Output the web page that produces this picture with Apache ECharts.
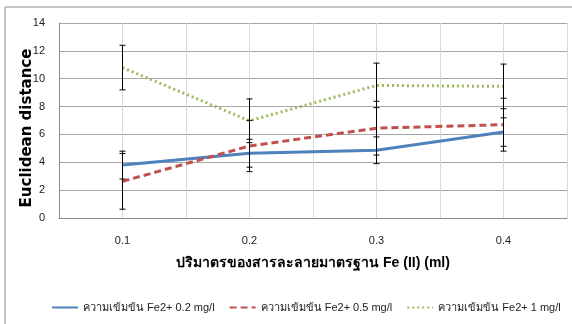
<!DOCTYPE html>
<html>
<head>
<meta charset="utf-8">
<script src="https://cdn.jsdelivr.net/npm/echarts@6/dist/echarts.min.js"></script>
<style>
  html, body { margin: 0; padding: 0; background: #fff; }
  #chart { width: 572px; height: 324px; }
</style>
</head>
<body>
<div id="chart"></div>
<script>
// ปริมาตร Fe (II) (ml)
var volumes = [0.1, 0.2, 0.3, 0.4];

var names = ['ความเข้มข้น Fe2+ 0.2 mg/l', 'ความเข้มข้น Fe2+ 0.5 mg/l', 'ความเข้มข้น Fe2+ 1 mg/l'];

var fe02 = [3.8, 4.65, 4.86, 6.17];
var fe02Err = [1.0, 1.0, 0.96, 1.02];

var fe05 = [2.63, 5.17, 6.45, 6.7];
var fe05Err = [2.0, 1.84, 1.93, 1.9];

var fe1 = [10.8, 6.98, 9.52, 9.45];
var fe1Err = [1.6, 1.57, 1.6, 1.6];

var colors = ['#4f81bd', '#c0504d', '#9bbb59'];
var dashes = ['solid', [7, 4], [2, 3]];

var chart = echarts.init(document.getElementById('chart'));

function pairs(vals) {
    return volumes.map(function(v, i) { return [v, vals[i]]; });
}

function errData(vals, errs) {
    return volumes.map(function(v, i) { return [v, vals[i] - errs[i], vals[i] + errs[i]]; });
}

function errBar(params, api) {
    var lo = api.coord([api.value(0), api.value(1)]);
    var hi = api.coord([api.value(0), api.value(2)]);
    var w = 3;
    var st = { stroke: '#000', lineWidth: 1 };
    return {
        type: 'group',
        children: [
            { type: 'line', shape: { x1: hi[0], y1: hi[1], x2: lo[0], y2: lo[1] }, style: st },
            { type: 'line', shape: { x1: hi[0] - w, y1: hi[1], x2: hi[0] + w, y2: hi[1] }, style: st },
            { type: 'line', shape: { x1: lo[0] - w, y1: lo[1], x2: lo[0] + w, y2: lo[1] }, style: st }
        ]
    };
}

var allVals = [fe02, fe05, fe1];
var allErrs = [fe02Err, fe05Err, fe1Err];

var series = [];
allVals.forEach(function(vals, i) {
    series.push({
        name: names[i],
        type: 'line',
        data: pairs(vals),
        symbol: 'none',
        lineStyle: { color: colors[i], width: 3, type: dashes[i] },
        itemStyle: { color: colors[i] },
        z: 3
    });
});
allVals.forEach(function(vals, i) {
    series.push({
        type: 'custom',
        data: errData(vals, allErrs[i]),
        renderItem: errBar,
        encode: { x: 0, y: [1, 2] },
        silent: true,
        z: 4
    });
});

var option = {
    animation: false,
    textStyle: { fontFamily: 'Liberation Sans Narrow, Liberation Sans, sans-serif' },
    graphic: [{
        type: 'rect',
        shape: { x: 5, y: 7, width: 600, height: 330 },
        style: { fill: null, stroke: '#8c8c8c', lineWidth: 1 },
        silent: true
    }, {
        type: 'text',
        x: 27,
        y: 128,
        rotation: Math.PI / 2,
        style: {
            text: 'Euclidean distance',
            fontFamily: 'DejaVu Sans',
            fontSize: 15,
            fontWeight: 'bold',
            fill: '#000',
            align: 'center',
            verticalAlign: 'middle'
        },
        silent: true
    }],
    grid: { left: 59, right: 5, top: 23, bottom: 106 },
    legend: {
        data: names,
        bottom: 6,
        left: 46,
        width: 520,
        itemWidth: 26,
        itemHeight: 10,
        itemGap: 14,
        itemStyle: { opacity: 0 },
        textStyle: { fontSize: 11, color: '#222' }
    },
    xAxis: {
        type: 'value',
        min: 0.05,
        max: 0.45,
        interval: 0.05,
        name: 'ปริมาตรของสารละลายมาตรฐาน Fe (II) (ml)',
        nameLocation: 'middle',
        nameGap: 38,
        nameTextStyle: { fontSize: 14, fontWeight: 'bold', color: '#000' },
        axisLine: { lineStyle: { color: '#8c8c8c' } },
        axisTick: { show: false },
        splitLine: { show: true, lineStyle: { color: '#d9d9d9' } },
        axisLabel: {
            fontSize: 11,
            color: '#222',
            margin: 17,
            showMinLabel: false,
            showMaxLabel: false,
            formatter: function(v) {
                var k = Math.round(v * 100);
                return k % 10 === 0 ? (k / 100).toFixed(1) : '';
            }
        }
    },
    yAxis: {
        type: 'value',
        min: 0,
        max: 14,
        interval: 2,
        axisLine: { show: true, lineStyle: { color: '#8c8c8c' } },
        axisTick: { show: false },
        splitLine: { lineStyle: { color: '#a6a6a6' } },
        axisLabel: { fontSize: 11, color: '#222', margin: 14 }
    },
    series: series
};

chart.setOption(option);
</script>
</body>
</html>
